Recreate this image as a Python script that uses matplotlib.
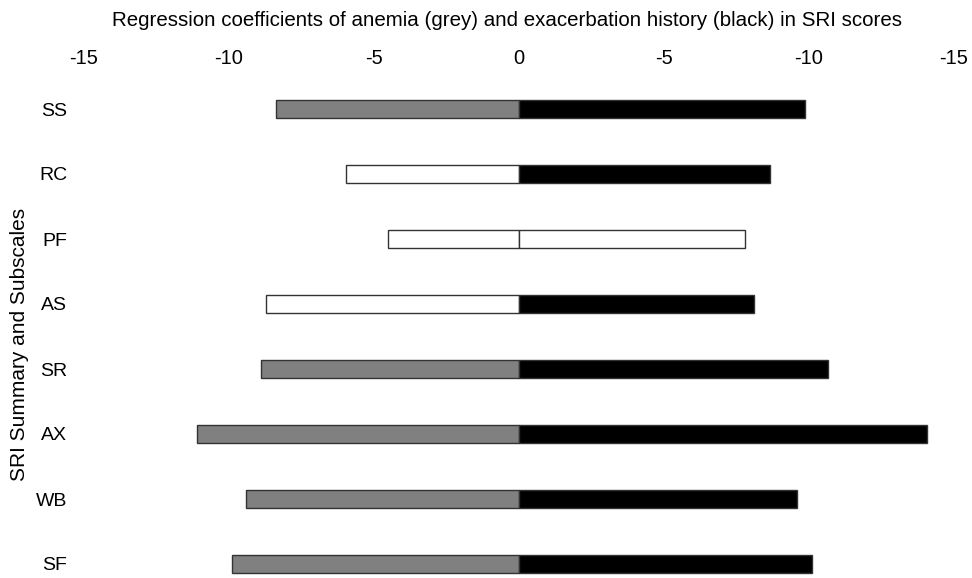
import matplotlib.pyplot as plt

plt.rcParams['font.family'] = ['Liberation Sans', 'DejaVu Sans']

# SRI summary score and subscales, top to bottom
categories = ['SS', 'RC', 'PF', 'AS', 'SR', 'AX', 'WB', 'SF']
# regression coefficients (negative values)
anemia = [-8.37, -5.98, -4.51, -8.73, -8.90, -11.10, -9.42, -9.91]
exacerbation = [-9.86, -8.67, -7.79, -8.11, -10.66, -14.07, -9.59, -10.11]
# significant coefficients are filled, others left white
anemia_sig = [True, False, False, False, True, True, True, True]
exacerbation_sig = [True, True, False, True, True, True, True, True]

tick_vals = [-15, -10, -5, 0, 5, 10, 15]
tick_labels = ['-15', '-10', '-5', '0', '-5', '-10', '-15']

fig = plt.figure(figsize=(9.72, 5.78), dpi=100)
# axes placed in pixels: x -15..15 over 84..954, top at 76.5, bottom at 578
ax = fig.add_axes([84 / 972, 0, 870 / 972, 1 - 76.5 / 578])

y = list(range(len(categories)))
# anemia drawn to the left
ax.barh(y, anemia, height=0.28,
        color=['#808080' if s else 'white' for s in anemia_sig],
        edgecolor='#333333', linewidth=1)
# exacerbation history drawn to the right
ax.barh(y, [-v for v in exacerbation], height=0.28,
        color=['black' if s else 'white' for s in exacerbation_sig],
        edgecolor='#333333', linewidth=1)

ax.set_xlim(-15, 15)
ax.set_ylim(7 + 14 / 65, -0.5)

ax.set_xticks(tick_vals)
ax.set_xticklabels(tick_labels)
ax.set_yticks(y)
ax.set_yticklabels(categories)

ax.tick_params(axis='x', top=True, labeltop=True, bottom=False, labelbottom=False,
               length=0, pad=6, labelsize=14.5)
ax.tick_params(axis='y', length=0, pad=12, labelsize=14)

for s in ax.spines.values():
    s.set_visible(False)

fig.text(507 / 972, 1 - 20 / 578,
         'Regression coefficients of anemia (grey) and exacerbation history (black) in SRI scores',
         ha='center', va='center', fontsize=14.8)
fig.text(20 / 972, 1 - 344 / 578, 'SRI Summary and Subscales',
         rotation=90, ha='center', va='center', fontsize=15)

fig.savefig('out.png', dpi=100)
